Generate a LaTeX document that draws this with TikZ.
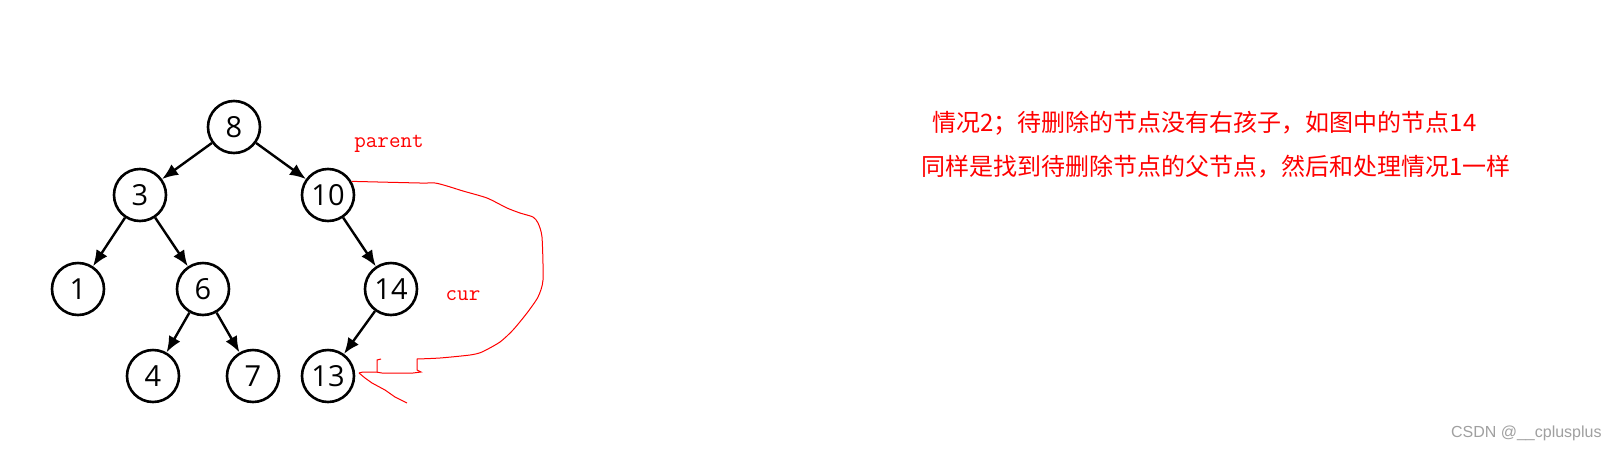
\documentclass[tikz,border=0pt]{standalone}
\usepackage{fontspec}
\setmainfont{Open Sans}
\newfontfamily\cjk{Noto Sans CJK SC}
\newfontfamily\wmfont{Liberation Sans}
\usetikzlibrary{positioning, arrows.meta}

\begin{document}
\begin{tikzpicture}[x=0.5pt, y=-0.5pt, on grid,
  vertex/.style={circle, draw, line width=1.3pt, minimum size=26pt, inner sep=0pt, font=\fontsize{14.5}{16}\selectfont},
  tree/.style={line width=1.2pt, -{Latex[length=8pt,width=6.5pt]}},
  redtext/.style={text=red, anchor=base, font=\ttfamily\fontsize{11.2}{13}\selectfont},
  note/.style={text=red, anchor=west, inner sep=0pt, font=\cjk\fontsize{12}{14}\selectfont},
  trace/.style={red, line width=0.5pt}]
\fill[white] (0,0) rectangle (1618,451);
\useasboundingbox (0,0) rectangle (1618,451);

\node[vertex] (n8) at (234,127) {8};
\node[vertex] (n3) [below left=34pt and 47pt of n8] {3};
\node[vertex] (n10) [below right=34pt and 47pt of n8] {10};
\node[vertex] (n1) [below left=47pt and 31pt of n3] {1};
\node[vertex] (n6) [below right=47pt and 31.5pt of n3] {6};
\node[vertex] (n14) [below right=47pt and 31.5pt of n10] {14};
\node[vertex] (n4) [below left=43.5pt and 25pt of n6] {4};
\node[vertex] (n7) [below right=43.5pt and 25pt of n6] {7};
\node[vertex] (n13) [below left=43.5pt and 31.5pt of n14] {13};

\path[tree]
	(n8) edge (n3)
	(n8) edge (n10)
	(n3) edge (n1)
	(n3) edge (n6)
	(n6) edge (n4)
	(n6) edge (n7)
	(n10) edge (n14)
	(n14) edge (n13);

\node[redtext] (parent) at (389,147) {parent};
\node[redtext] (cur) at (463,300) {cur};

% hand drawn arrow from parent to cur's child
\coordinate (tip) at (359,373);
\coordinate (barb) at (407,403);
\draw[trace] plot[smooth, tension=0.4] coordinates {(n10.30) (420,183) (435,183) (447,186) (463,191) (487,198) (507,208) (520,213) (533,217) (538,223) (542,237) (543,280) (538,297) (527,313) (513,330) (500,342) (482,352) (470,355) (440,358) (417,359)}
	-- (417,370) -- (421,372) -- (413,373) -- (382,373) -- (376,372) -- (363,372) -- (tip);
\draw[trace] (377,372) -- (377,360) -- (381,359);
\draw[trace] (tip) -- (365,378) -- (372,383) -- (385,390) -- (395,397) -- (barb);

\node[note] (line1) at (932,123) {情况2；待删除的节点没有右孩子，如图中的节点14};
\node[note] (line2) at (921,167) {同样是找到待删除节点的父节点，然后和处理情况1一样};

\node[anchor=east, inner sep=0pt, text={rgb,255:red,160;green,160;blue,160}, font=\wmfont\fontsize{8}{10}\selectfont] (csdn) at (1602,433) {CSDN @\_\_cplusplus};
\end{tikzpicture}
\end{document}
